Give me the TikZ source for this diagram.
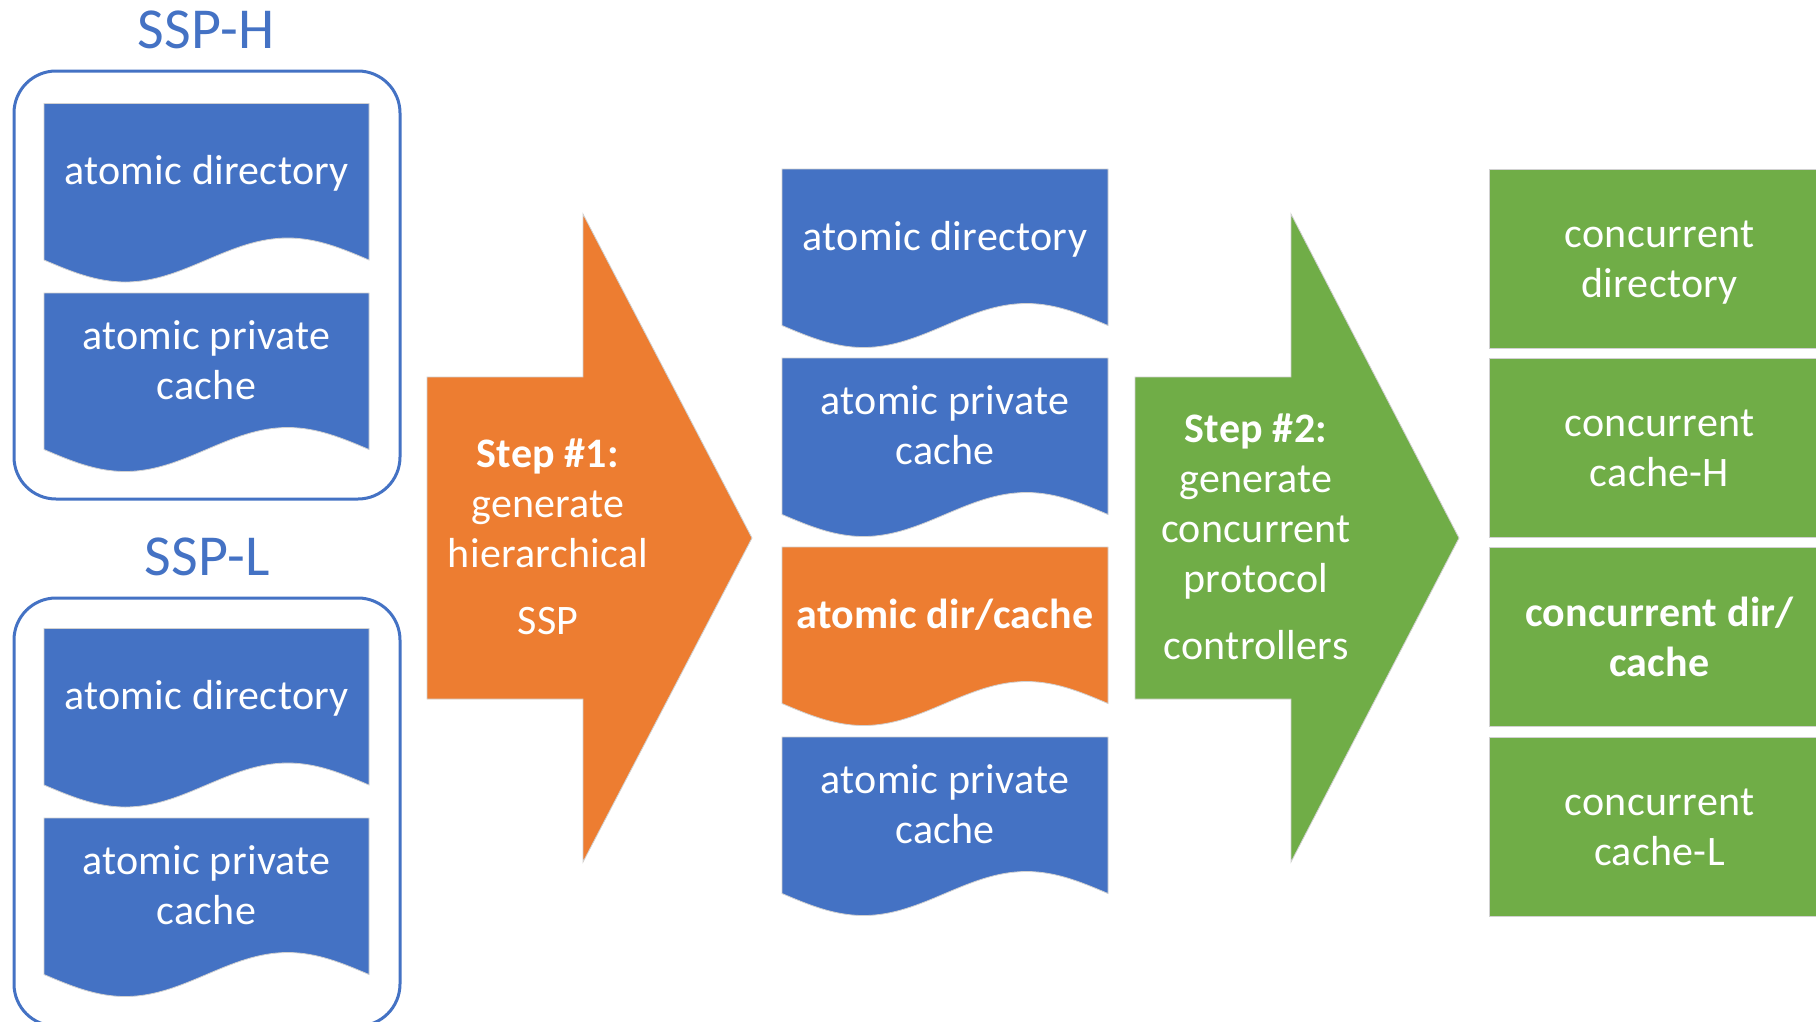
\documentclass[tikz,border=0pt]{standalone}
\usepackage{fontspec}
\setmainfont{Carlito}[LetterSpace=0.7]
\definecolor{cblue}{HTML}{4472C4}
\definecolor{corange}{HTML}{ED7D31}
\definecolor{cgreen}{HTML}{70AD47}
\newcommand\lstrut{\rule[-14pt]{0pt}{50pt}}
% #1 fill colour, #2 left x, #3 top y, #4 width
\newcommand\docshape[4]{%
  \path[fill=#1, draw=black!18, line width=0.8]
    (#2,#3) -- ({#2+#4},#3) -- ({#2+#4},{#3+156.5})
    sin ({#2+0.75*#4},{#3+156.5-22}) cos ({#2+0.5*#4},{#3+156.5})
    sin ({#2+0.25*#4},{#3+156.5+22}) cos (#2,{#3+156.5}) -- cycle;}
\tikzset{
  txt/.style={text=white, font=\fontsize{42}{50}\selectfont, align=center, inner sep=0pt},
  btxt/.style={txt, font=\fontsize{42}{50}\selectfont\bfseries},
  ssp/.style={text=cblue, font=\fontsize{58}{68}\selectfont, anchor=base, inner sep=0pt},
  frame/.style={draw=cblue, line width=3, fill=white, rounded corners=42},
  gbox/.style={fill=cgreen, draw=black!18, line width=0.8, minimum width=341, minimum height=179,
               inner sep=0pt},
  gtxt/.style={txt},
  bigarrow/.style={draw=black!18, line width=0.8}
}
\begin{document}
\begin{tikzpicture}[x=1pt, y=-1pt]
\useasboundingbox (0,0) rectangle (1816,1021);
\clip (0,0) rectangle (1816,1021);
\fill[white] (0,0) rectangle (1816,1021);

% ---------- left column ----------
\node[ssp] (ssph) at (206,48.3) {SSP-H};
\draw[frame] (14,71) rectangle (400,499);
\docshape{cblue}{44}{103.5}{325}
\docshape{cblue}{44}{293}{325}
\node[txt] (h1) at (206.5,173.5) {\lstrut atomic directory};
\node[txt] (h2) at (206.5,363) {\lstrut atomic private\\\lstrut cache};

\node[ssp] (sspl) at (207,575) {SSP-L};
\draw[frame] (14,598) rectangle (400,1026);
\docshape{cblue}{44}{628.5}{325}
\docshape{cblue}{44}{818}{325}
\node[txt] (l1) at (206.5,698.5) {\lstrut atomic directory};
\node[txt] (l2) at (206.5,888) {\lstrut atomic private\\\lstrut cache};

% ---------- step 1 arrow ----------
\path[bigarrow, fill=corange] (427,377) -- (583,377) -- (583,214) -- (752,538)
  -- (583,862) -- (583,699) -- (427,699) -- cycle;
\node[txt] (s1) at (548,540)
  {\lstrut\textbf{Step \#1:}\\\lstrut generate\\\lstrut hierarchical\\[17pt]\lstrut SSP};

% ---------- middle column ----------
\docshape{cblue}{782}{169}{326}
\docshape{cblue}{782}{358}{326}
\docshape{corange}{782}{547}{326}
\docshape{cblue}{782}{737}{326}
\node[txt] (m1) at (945,239) {\lstrut atomic directory};
\node[txt] (m2) at (945,428) {\lstrut atomic private\\\lstrut cache};
\node[btxt] (m3) at (945,617) {\lstrut atomic dir/cache};
\node[txt] (m4) at (945,807) {\lstrut atomic private\\\lstrut cache};

% ---------- step 2 arrow ----------
\path[bigarrow, fill=cgreen] (1135,377) -- (1291,377) -- (1291,214) -- (1459,538)
  -- (1291,862) -- (1291,699) -- (1135,699) -- cycle;
\node[txt] (s2) at (1256,539.5)
  {\lstrut\textbf{Step \#2:}\\\lstrut generate\\\lstrut concurrent\\\lstrut protocol\\[17pt]\lstrut controllers};

% ---------- right column ----------
\node[gbox] (g1) at (1659.5,258.5) {};
\node[gbox] (g2) at (1659.5,448) {};
\node[gbox] (g3) at (1659.5,637) {};
\node[gbox] (g4) at (1659.5,826.5) {};
\node[gtxt] (t1) at (1659.5,261) {\lstrut concurrent\\\lstrut directory};
\node[gtxt] (t2) at (1659.5,450) {\lstrut concurrent\\\lstrut cache-H};
\node[btxt] (t3) at (1659.5,640) {\lstrut concurrent dir/\\\lstrut cache};
\node[gtxt] (t4) at (1659.5,829) {\lstrut concurrent\\\lstrut cache-L};
\end{tikzpicture}
\end{document}
